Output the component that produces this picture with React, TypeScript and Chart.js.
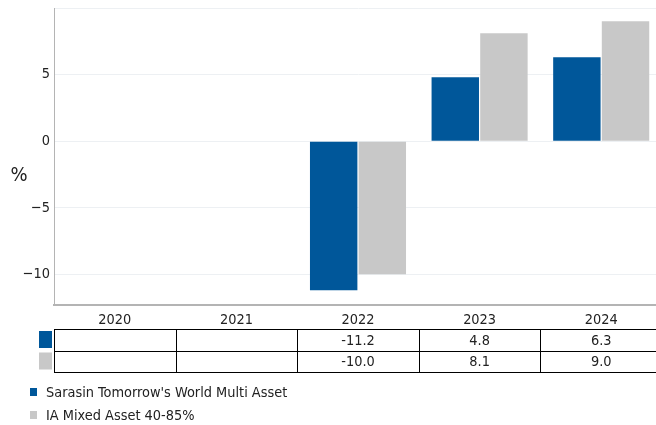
import React, { useEffect, useRef } from 'react';
import { Chart, registerables } from 'chart.js';
Chart.register(...registerables);

const categories = ['2020', '2021', '2022', '2023', '2024'];
const seriesNames = ["Sarasin Tomorrow's World Multi Asset", 'IA Mixed Asset 40-85%'];
const fundValues: (number | null)[] = [null, null, -11.2, 4.8, 6.3];
const sectorValues: (number | null)[] = [null, null, -10.0, 8.1, 9.0];
const seriesColors = ['#00579A', '#C8C8C8'];
const yTickValues = [-10, -5, 0, 5, 10];
const yTickLabels = ['−10', '−5', '0', '5', ''];
const yMin = -12.3;
const yMax = 10;
const yAxisLabel = '%';

const FONT = "'DejaVu Sans Condensed', 'DejaVu Sans', sans-serif";
const TEXT = '#222222';
const FS = 14.4;

const tablePlugin = {
  id: 'tableLegend',
  afterDraw(chart: any) {
    const ctx = chart.ctx;
    const xs = chart.scales.x;
    const area = chart.chartArea;
    const n = categories.length;
    const colW = (area.right - area.left) / n;
    ctx.save();
    ctx.font = `${FS}px ${FONT}`;
    ctx.fillStyle = TEXT;
    ctx.textAlign = 'center';
    ctx.textBaseline = 'middle';
    categories.forEach((c, i) => {
      ctx.fillText(c, xs.getPixelForValue(i), 320.5);
    });
    const rowTop = 329;
    const rowH = 21.5;
    const series = [fundValues, sectorValues];
    series.forEach((vals, r) => {
      vals.forEach((v, i) => {
        if (v === null) return;
        ctx.fillText(v.toFixed(1), xs.getPixelForValue(i), rowTop + rowH * r + rowH / 2 + 1.5);
      });
      ctx.fillStyle = seriesColors[r];
      ctx.fillRect(39, rowTop + rowH * r + 2, 13, 17);
      ctx.fillStyle = TEXT;
    });
    ctx.strokeStyle = '#000';
    ctx.lineWidth = 1;
    ctx.beginPath();
    for (let r = 0; r <= series.length; r++) {
      const y = Math.round(rowTop + rowH * r) + 0.5;
      ctx.moveTo(area.left, y);
      ctx.lineTo(area.right, y);
    }
    for (let i = 0; i <= n; i++) {
      const x = Math.round(area.left + colW * i) + 0.5;
      ctx.moveTo(x, Math.round(rowTop) + 0.5);
      ctx.lineTo(x, Math.round(rowTop + rowH * series.length) + 0.5);
    }
    ctx.stroke();
    ctx.textAlign = 'left';
    seriesNames.forEach((name, r) => {
      const cy = 393 + r * 23;
      ctx.fillStyle = seriesColors[r];
      ctx.fillRect(30, cy - 5, 7, 8);
      ctx.fillStyle = TEXT;
      ctx.fillText(name, 46, cy);
    });
    ctx.textAlign = 'center';
    ctx.font = `20px ${FONT}`;
    ctx.fillText(yAxisLabel, 19, 176);
    ctx.restore();
  },
};

export default function App() {
  const ref = useRef<HTMLCanvasElement>(null);
  useEffect(() => {
    document.body.style.margin = '0';
    const chart = new Chart(ref.current!, {
      type: 'bar',
      data: {
        labels: categories,
        datasets: [
          {
            label: seriesNames[0],
            data: fundValues,
            backgroundColor: seriesColors[0],
            categoryPercentage: 0.8,
            barPercentage: 0.975,
          },
          {
            label: seriesNames[1],
            data: sectorValues,
            backgroundColor: seriesColors[1],
            categoryPercentage: 0.8,
            barPercentage: 0.975,
          },
        ],
      },
      options: {
        responsive: false,
        animation: false,
        devicePixelRatio: 1,
        layout: { padding: { left: 0, right: 0, top: 8, bottom: 120 } },
        plugins: { legend: { display: false }, tooltip: { enabled: false } },
        scales: {
          x: {
            grid: { display: false },
            border: { display: true, color: '#B4B4B4', width: 2 },
            ticks: { display: false },
            afterFit: (s: any) => { s.height = 0; s.paddingLeft = 0; s.paddingRight = 0; },
          },
          y: {
            min: yMin,
            max: yMax,
            afterBuildTicks: (s: any) => {
              s.ticks = yTickValues.map((v) => ({ value: v }));
            },
            grid: { color: '#EDF0F3', drawTicks: false },
            border: { display: true, color: '#B4B4B4', width: 1 },
            ticks: {
              padding: 4,
              color: TEXT,
              font: { family: FONT, size: FS },
              callback: (v: any) => {
                const idx = yTickValues.indexOf(Number(v));
                return idx >= 0 ? yTickLabels[idx] : '';
              },
            },
            afterFit: (s: any) => { s.width = 54; s.paddingTop = 0; s.paddingBottom = 0; },
          },
        },
      },
      plugins: [tablePlugin],
    });
    return () => chart.destroy();
  }, []);
  return (
    <div style={{ position: 'fixed', left: 0, top: 0, width: 656, height: 425, overflow: 'hidden', background: '#fff' }}>
      <canvas ref={ref} width={662} height={425} style={{ display: 'block' }} />
    </div>
  );
}
